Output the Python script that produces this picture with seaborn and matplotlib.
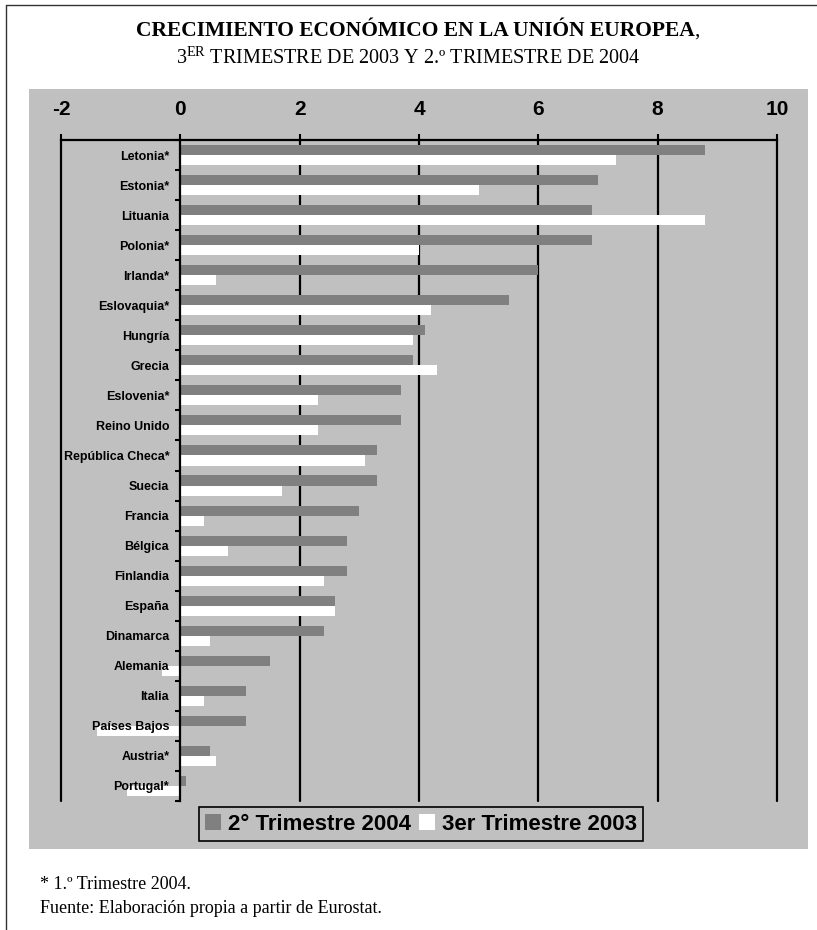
import numpy as np
import pandas as pd
import matplotlib
matplotlib.use("Agg")
import matplotlib.pyplot as plt
import seaborn as sns
from matplotlib.patches import Rectangle, Patch
from matplotlib.lines import Line2D
from matplotlib.ticker import FixedLocator

# datos (crecimiento del PIB, %)
paises = ["Letonia*", "Estonia*", "Lituania", "Polonia*", "Irlanda*", "Eslovaquia*",
          "Hungría", "Grecia", "Eslovenia*", "Reino Unido", "República Checa*", "Suecia",
          "Francia", "Bélgica", "Finlandia", "España", "Dinamarca", "Alemania", "Italia",
          "Países Bajos", "Austria*", "Portugal*"]
t2_2004 = [8.8, 7.0, 6.9, 6.9, 6.0, 5.5, 4.1, 3.9, 3.7, 3.7, 3.3, 3.3,
           3.0, 2.8, 2.8, 2.6, 2.4, 1.5, 1.1, 1.1, 0.5, 0.1]
t3_2003 = [7.3, 5.0, 8.8, 4.0, 0.6, 4.2, 3.9, 4.3, 2.3, 2.3, 3.1, 1.7,
           0.4, 0.8, 2.4, 2.6, 0.5, -0.3, 0.4, -1.4, 0.6, -0.9]
series = ["2° Trimestre 2004", "3er Trimestre 2003"]
ticks_x = [-2, 0, 2, 4, 6, 8, 10]

GRIS = "#808080"
FONDO = "#C0C0C0"

df = pd.DataFrame({
    "pais": paises * 2,
    "valor": t2_2004 + t3_2003,
    "serie": [series[0]] * len(paises) + [series[1]] * len(paises),
})

sns.set_style("white")
plt.rcParams["font.family"] = ["Liberation Sans", "DejaVu Sans"]
plt.rcParams["text.color"] = "black"
plt.rcParams["xtick.color"] = "black"
plt.rcParams["ytick.color"] = "black"
plt.rcParams["mathtext.fontset"] = "custom"
plt.rcParams["mathtext.rm"] = "Liberation Serif"

W, H = 817, 930
fig = plt.figure(figsize=(W / 100, H / 100), dpi=100)

# panel gris de fondo y marco exterior
fig.patches.append(Rectangle((29 / W, 1 - 849 / H), 779 / W, 760 / H,
                             transform=fig.transFigure, facecolor=FONDO,
                             edgecolor="none", zorder=-10))
fig.add_artist(Line2D([6 / W, 6 / W], [0, 1 - 5 / H], transform=fig.transFigure,
                      color="#333333", lw=1))
fig.add_artist(Line2D([6 / W, 1], [1 - 5 / H, 1 - 5 / H], transform=fig.transFigure,
                      color="#333333", lw=1))

ax = fig.add_axes([61 / W, 1 - 801 / H, 716 / W, 661 / H])
ax.set_facecolor("none")

sns.barplot(data=df, x="valor", y="pais", hue="serie", hue_order=series,
            palette=[GRIS, "white"], orient="h", width=0.67, saturation=1,
            legend=False, errorbar=None, linewidth=0, ax=ax)

# ejes y etiquetas por encima de las barras
ax.set_axisbelow(False)
ax.set_xlim(-2, 10)
ax.set_ylim(len(paises) - 0.5, -0.5)
ax.set_xlabel("")
ax.set_ylabel("")

# lineas verticales de la cuadricula (detras de las barras)
for x in ticks_x:
    if x != 0:
        ax.axvline(x, color="black", lw=1.6, zorder=0.5, clip_on=False)

# el eje vertical cruza en x = 0 (esto reinicia los ticks, va primero)
ax.spines["left"].set_position(("data", 0))
ax.spines["left"].set_linewidth(1.6)
ax.spines["left"].set_color("black")
ax.spines["top"].set_linewidth(1.6)
ax.spines["top"].set_color("black")
ax.spines["right"].set_visible(False)
ax.spines["bottom"].set_visible(False)

ax.xaxis.tick_top()
ax.set_xticks(ticks_x)
ax.set_xticklabels([str(t) for t in ticks_x], fontweight="bold")
ax.tick_params(axis="x", which="major", top=True, bottom=False, direction="out",
               length=4, width=1.5, pad=11, labelsize=15, colors="black")

ax.set_yticks(range(len(paises)))
ax.set_yticklabels(paises, fontweight="bold")
ax.yaxis.set_minor_locator(FixedLocator(np.arange(-0.5, len(paises), 1)))
ax.tick_params(axis="y", which="major", left=True, length=0, pad=8, labelsize=9)
ax.tick_params(axis="y", which="minor", left=True, length=3.5, width=1.5,
               direction="out", color="black")
for t in ax.yaxis.get_major_ticks():
    t.label1.set_fontweight("bold")

handles = [Patch(facecolor=GRIS, edgecolor="none", label=series[0]),
           Patch(facecolor="white", edgecolor="none", label=series[1])]
leg = fig.legend(handles=handles, loc="center", bbox_to_anchor=(421 / W, 1 - 824 / H),
                 ncol=2, frameon=True, fancybox=False, edgecolor="black",
                 facecolor=FONDO, framealpha=1,
                 prop={"weight": "bold", "size": 16},
                 handlelength=0.7, handleheight=0.7, handletextpad=0.3,
                 columnspacing=0.4, borderpad=0.3, borderaxespad=0)
leg.get_frame().set_linewidth(1.2)

# titulos (la coma final no va en negrita)
t1 = fig.text(415 / W, 1 - 36 / H, "CRECIMIENTO ECONÓMICO EN LA UNIÓN EUROPEA",
              ha="center", va="baseline", family="Liberation Serif", weight="bold",
              size=15.5)
fig.text(0, 0, ",", transform=t1.get_transform() + matplotlib.transforms.Affine2D(),
         alpha=0)  # marcador vacio
fig.canvas.draw()
bb = t1.get_window_extent()
fig.text(bb.x1 / W, 1 - 36 / H, ",", ha="left", va="baseline",
         family="Liberation Serif", size=15.5)
fig.text(408 / W, 1 - 58 / H, "3$^{\\mathrm{ER}}$ TRIMESTRE DE 2003 Y 2.º TRIMESTRE DE 2004",
         ha="center", va="center", family="Liberation Serif", size=14.5)

# notas
fig.text(40 / W, 1 - 884 / H, "* 1.º Trimestre 2004.", ha="left", va="center",
         family="Liberation Serif", size=13)
fig.text(40 / W, 1 - 908 / H, "Fuente: Elaboración propia a partir de Eurostat.",
         ha="left", va="center", family="Liberation Serif", size=13)

fig.savefig("out.png", dpi=100)
